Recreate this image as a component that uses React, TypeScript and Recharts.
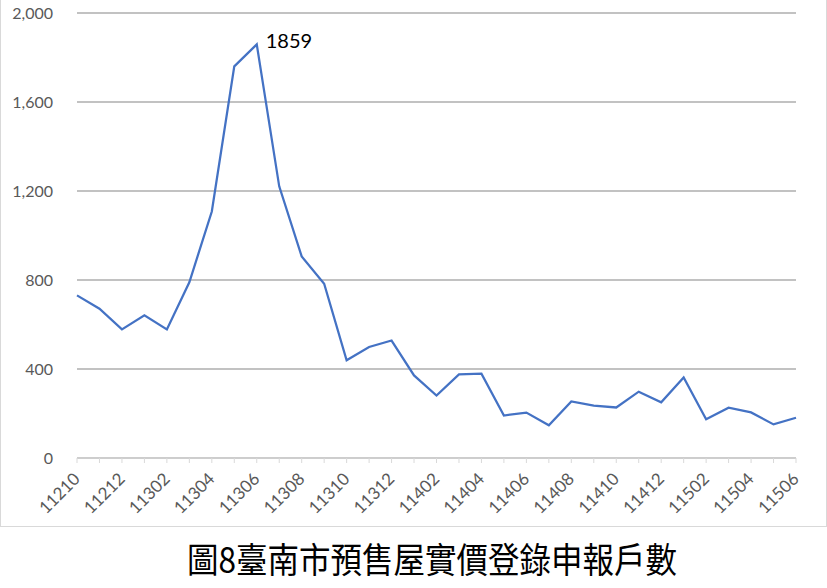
import React from "react";
import { LineChart, Line, XAxis, YAxis, CartesianGrid } from "recharts";

const months: string[] = [
  "11210", "11211", "11212",
  "11301", "11302", "11303", "11304", "11305", "11306", "11307", "11308", "11309", "11310", "11311", "11312",
  "11401", "11402", "11403", "11404", "11405", "11406", "11407", "11408", "11409", "11410", "11411", "11412",
  "11501", "11502", "11503", "11504", "11505", "11506",
];

const counts: number[] = [
  731, 671, 578,
  641, 578, 790, 1108, 1760, 1859, 1221, 906, 783, 439, 499, 528,
  371, 281, 376, 379, 191, 204, 147, 254, 235, 227, 298, 250,
  362, 174, 226, 205, 151, 181,
];

const yTicks: number[] = [0, 400, 800, 1200, 1600, 2000];
const labelledMonth = "11306";
const title = "圖8臺南市預售屋實價登錄申報戶數";

const data = months.map((m, i) => ({ month: m, value: counts[i] }));

const FONT = "Lato, 'Noto Sans', sans-serif";

const XTick = (props: any) => {
  const { x, y, index, payload } = props;
  if (index % 2 !== 0) return null;
  const ax = x + 4;
  const ay = y + 17;
  return (
    <text
      x={ax}
      y={ay}
      textAnchor="end"
      transform={`rotate(-45, ${ax}, ${ay})`}
      fill="#595959"
      fontSize={17}
      fontFamily={FONT}
    >
      {payload.value}
    </text>
  );
};

const PeakLabel = (props: any) => {
  const { x, y, index } = props;
  if (months[index] !== labelledMonth) return null;
  return (
    <text x={x + 9} y={y + 4} fill="#000" fontSize={20} fontFamily={FONT}>
      {counts[index]}
    </text>
  );
};

export default function App() {
  return (
    <div
      style={{
        position: "fixed",
        left: 0,
        top: 0,
        width: 827,
        height: 588,
        background: "#fff",
      }}
    >
      <div
        style={{
          position: "absolute",
          left: 0,
          top: -2,
          width: 825,
          height: 527,
          border: "1px solid #d9d9d9",
        }}
      />
      <div style={{ position: "absolute", left: 0, top: 0 }}>
        <LineChart
          width={827}
          height={526}
          data={data}
          margin={{ top: 13, right: 31, left: 0, bottom: 0 }}
        >
          <CartesianGrid vertical={false} stroke="#858585" strokeWidth={1} />
          <XAxis
            dataKey="month"
            interval={0}
            tick={<XTick />}
            tickSize={5}
            tickMargin={0}
            stroke="#d9d9d9"
            height={68}
          />
          <YAxis
            domain={[0, 2000]}
            ticks={yTicks}
            width={77}
            axisLine={false}
            tickLine={false}
            tickSize={0}
            tickMargin={24}
            tick={{ fill: "#595959", fontSize: 16, fontFamily: FONT }}
            tickFormatter={(v: number) => v.toLocaleString("en-US")}
          />
          <Line
            type="linear"
            dataKey="value"
            stroke="#4472C4"
            strokeWidth={2.25}
            dot={false}
            isAnimationActive={false}
            label={<PeakLabel />}
          />
        </LineChart>
      </div>
      <div
        style={{
          position: "absolute",
          left: 0,
          width: 864,
          top: 536,
          textAlign: "center",
          fontFamily: "'Noto Sans CJK TC', serif",
          fontSize: 35,
          lineHeight: "44px",
          color: "#000",
          transform: "scaleX(0.9)",
          transformOrigin: "432px 0",
        }}
      >
        {title}
      </div>
    </div>
  );
}
